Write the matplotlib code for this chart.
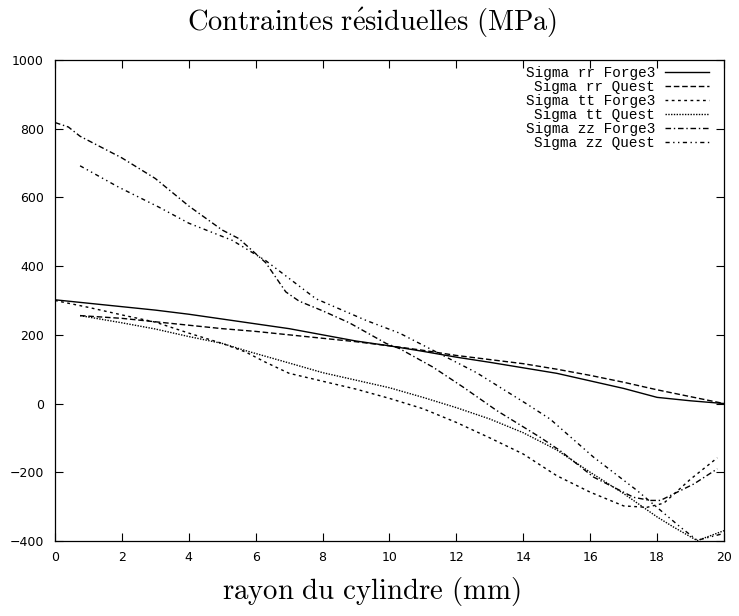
import numpy as np
import matplotlib
matplotlib.use("Agg")
import matplotlib.pyplot as plt

plt.rcParams['mathtext.fontset'] = 'cm'
plt.rcParams['font.family'] = ['DejaVu Sans']

# Sigma rr
rr_forge_x = [0, 1, 2, 3, 4, 5, 6, 7, 8, 9, 10, 11, 12, 13, 14, 15, 16, 17, 18, 19, 20]
rr_forge_y = [302, 292, 282, 272, 260, 246, 232, 218, 200, 182, 168, 152, 135, 120, 104, 88, 66, 44, 18, 8, 0]
rr_quest_x = [0.75, 2, 3, 4, 5, 6, 7, 8, 9, 10, 11, 12, 13, 14, 15, 16, 17, 18, 19, 20]
rr_quest_y = [256, 248, 238, 228, 218, 210, 200, 190, 180, 168, 155, 140, 128, 116, 100, 82, 62, 40, 20, 0]

# Sigma tt
tt_forge_x = [0, 1, 2, 3, 4, 5, 5.7, 6.3, 7, 8, 9, 10, 11, 12, 13, 14, 15, 16, 17, 17.7, 18.2, 19, 19.8]
tt_forge_y = [300, 280, 258, 237, 205, 175, 150, 120, 88, 65, 42, 15, -15, -55, -100, -147, -210, -258, -298, -302, -290, -220, -158]
tt_quest_x = [0.75, 2, 3, 4, 5, 5.7, 7, 8, 9, 10, 11, 12, 13, 14, 15, 16, 17, 18, 18.5, 19.2, 20]
tt_quest_y = [256, 235, 217, 195, 175, 154, 118, 90, 68, 46, 18, -12, -45, -85, -135, -200, -262, -330, -360, -399, -370]

# Sigma zz
zz_forge_x = [0, 0.4, 0.75, 2, 3, 4, 5, 5.5, 6.3, 6.9, 7.3, 8, 8.8, 9.9, 10.3, 11.3, 12.2, 13.2, 14.5, 15.1, 16.1, 17.3, 17.8, 18.1, 19.1, 19.8]
zz_forge_y = [818, 805, 778, 715, 655, 575, 505, 480, 410, 325, 298, 270, 235, 175, 160, 106, 48, -20, -98, -137, -214, -273, -282, -282, -234, -190]
zz_quest_x = [0.75, 1.9, 3.1, 4, 5.3, 6.3, 7.8, 9.3, 10.3, 11.5, 12.6, 14.1, 14.8, 16.1, 17.4, 18.7, 19.2, 20]
zz_quest_y = [692, 630, 572, 525, 475, 416, 305, 242, 205, 145, 90, -1, -45, -156, -253, -360, -398, -378]

series = [
    ("Sigma rr Forge3", rr_forge_x, rr_forge_y, '-'),
    ("Sigma rr Quest", rr_quest_x, rr_quest_y, (0, (4, 2))),
    ("Sigma tt Forge3", tt_forge_x, tt_forge_y, (0, (2, 2.5))),
    ("Sigma tt Quest", tt_quest_x, tt_quest_y, (0, (1, 1))),
    ("Sigma zz Forge3", zz_forge_x, zz_forge_y, (0, (4, 2, 1, 2))),
    ("Sigma zz Quest", zz_quest_x, zz_quest_y, (0, (3, 2.5, 1, 2.5, 1, 2.5))),
]

fig = plt.figure(figsize=(7.39, 6.16), dpi=100)
ax = fig.add_axes([0.0744, 0.1218, 0.9053, 0.7808])

for label, xs, ys, ls in series:
    ax.plot(xs, ys, color='black', linestyle=ls, linewidth=1.0, label=label)

ax.set_xlim(0, 20)
ax.set_ylim(-400, 1000)
ax.set_xticks(np.arange(0, 21, 2))
ax.set_yticks(np.arange(-400, 1001, 200))
ax.tick_params(direction='in', length=6, top=True, right=True, labelsize=9, width=0.8)
ax.tick_params(axis='x', pad=7)
ax.tick_params(axis='y', pad=8)
for side in ax.spines.values():
    side.set_linewidth(0.9)

leg = ax.legend(loc='upper right', bbox_to_anchor=(0.978, 0.988), frameon=False,
                markerfirst=False, borderaxespad=0, borderpad=0,
                prop={'family': 'Liberation Mono', 'size': 10.4},
                handlelength=3.1, handletextpad=0.65, labelspacing=0.0)

fig.text(0.503, 0.962, r'$\mathrm{Contraintes\ r\acute{e}siduelles\ (MPa)}$',
         ha='center', va='center', fontsize=20.5)
fig.text(0.503, 0.04, r'$\mathrm{rayon\ du\ cylindre\ (mm)}$',
         ha='center', va='center', fontsize=20.8)

fig.savefig('out.png', dpi=100)
